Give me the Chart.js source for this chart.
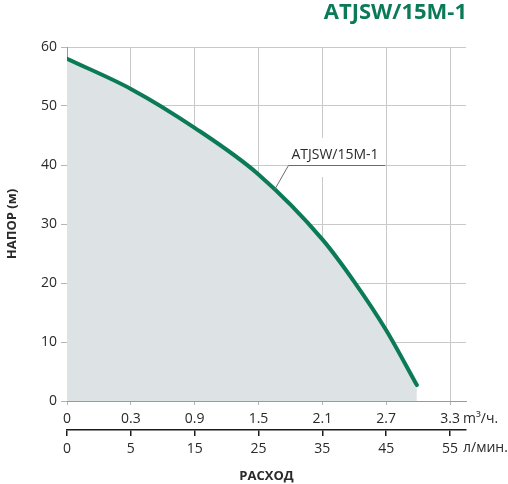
<!DOCTYPE html>
<html>
<head>
<meta charset="utf-8">
<script src="https://cdn.jsdelivr.net/npm/chart.js@4.4.1/dist/chart.umd.min.js"></script>
<style>
  html, body { margin: 0; padding: 0; background: #fff; }
  #wrap { width: 508px; height: 484px; position: relative; }
</style>
</head>
<body>
<div id="wrap"><canvas id="c" width="508" height="484"></canvas></div>
<script>
// ---- data ----
const chartTitle = 'ATJSW/15M-1';
const seriesName = 'ATJSW/15M-1';
const flowPositions = [0, 1, 2, 3, 4, 4.5, 5, 5.48];
const headValues = [58, 52.9, 46.3, 38.4, 27.4, 20.2, 12, 2.7];
const tickPositions = [0, 1, 2, 3, 4, 5, 6];
const m3hLabels = ['0', '0.3', '0.9', '1.5', '2.1', '2.7', '3.3'];
const lminLabels = ['0', '5', '15', '25', '35', '45', '55'];
const yTicks = [0, 10, 20, 30, 40, 50, 60];
const unitM3h = 'm³/ч.';
const unitLmin = 'л/мин.';
const xTitle = 'РАСХОД';
const yTitle = 'НАПОР (м)';

const FONT = "'Open Sans', 'Noto Sans', sans-serif";
const GREEN = '#0b7a57';
const TEXT = '#2a2a2a';

const overlay = {
  id: 'overlay',
  afterDraw(chart) {
    const ctx = chart.ctx;
    const xs = chart.scales.x, ys = chart.scales.y;
    ctx.save();
    // title
    ctx.fillStyle = GREEN;
    ctx.font = "bold 22px " + FONT;
    ctx.textAlign = 'right';
    ctx.textBaseline = 'middle';
    ctx.fillText(chartTitle, 467, 13);
    // units
    ctx.fillStyle = TEXT;
    ctx.font = "14px " + FONT;
    ctx.textAlign = 'left';
    const xr = xs.getPixelForValue(6) + 13;
    ctx.fillText(unitM3h, xr, 419);
    ctx.fillText(unitLmin, xr, 448);
    // series label with white box
    const lx = xs.getPixelForValue(3.5), ly = ys.getPixelForValue(40);
    ctx.fillStyle = '#fff';
    ctx.fillRect(lx, ly - 27, 95, 39);
    ctx.strokeStyle = '#6b6b6b';
    ctx.lineWidth = 1;
    ctx.beginPath();
    ctx.moveTo(lx + 95, ly + 0.5);
    ctx.lineTo(lx - 2, ly + 0.5);
    ctx.lineTo(lx - 16, ly + 25);
    ctx.stroke();
    ctx.fillStyle = TEXT;
    ctx.font = "14px " + FONT;
    ctx.textAlign = 'left';
    ctx.textBaseline = 'alphabetic';
    ctx.fillText(seriesName, lx + 1, ly - 6);
    ctx.restore();
  }
};

new Chart(document.getElementById('c'), {
  type: 'scatter',
  data: {
    datasets: [{
      data: flowPositions.map((x, i) => ({ x: x, y: headValues[i] })),
      showLine: true,
      borderColor: GREEN,
      borderWidth: 4,
      borderCapStyle: 'round',
      backgroundColor: '#dde2e5',
      fill: 'origin',
      pointRadius: 0,
      cubicInterpolationMode: 'monotone'
    }]
  },
  options: {
    responsive: false,
    animation: false,
    devicePixelRatio: 1,
    layout: { padding: { top: 47, right: 42, left: 0, bottom: 0 } },
    plugins: { legend: { display: false }, tooltip: { enabled: false }, title: { display: false } },
    scales: {
      y: {
        type: 'linear', min: 0, max: 60,
        afterBuildTicks: s => { s.ticks = yTicks.map(v => ({ value: v })); },
        afterFit: s => { s.width = 67; },
        grid: { color: '#c9c9c9', lineWidth: 1, tickLength: 6, tickColor: '#b5b5b5' },
        border: { color: '#9a9a9a', width: 1 },
        ticks: { color: TEXT, font: { family: FONT, size: 14 }, padding: 4 },
        title: { display: true, text: yTitle, color: TEXT, font: { family: FONT, size: 13, weight: 'bold' }, padding: { top: 4, bottom: 0 } }
      },
      x: {
        type: 'linear', position: 'bottom', weight: 0, min: 0, max: 6.25,
        afterBuildTicks: s => { s.ticks = tickPositions.map(v => ({ value: v })); },
        afterFit: s => { s.height = 29; },
        grid: { color: '#c9c9c9', lineWidth: 1, tickLength: 4, tickColor: '#b5b5b5' },
        border: { color: '#9a9a9a', width: 1 },
        ticks: { color: TEXT, font: { family: FONT, size: 14 }, padding: 6, maxRotation: 0,
          callback: (v) => m3hLabels[tickPositions.indexOf(v)] }
      },
      x2: {
        type: 'linear', position: 'bottom', weight: 1, min: 0, max: 6.25,
        afterBuildTicks: s => { s.ticks = tickPositions.map(v => ({ value: v })); },
        afterFit: s => { s.height = 54; },
        grid: { drawOnChartArea: false, color: '#1a1a1a', lineWidth: 1.5, tickLength: 6 },
        border: { color: '#1a1a1a', width: 1.5 },
        ticks: { color: TEXT, font: { family: FONT, size: 14 }, padding: 5, maxRotation: 0,
          callback: (v) => lminLabels[tickPositions.indexOf(v)] },
        title: { display: true, text: xTitle, color: TEXT, font: { family: FONT, size: 13, weight: 'bold' }, padding: { top: 0, bottom: 0 } }
      }
    }
  },
  plugins: [overlay]
});
</script>
</body>
</html>
